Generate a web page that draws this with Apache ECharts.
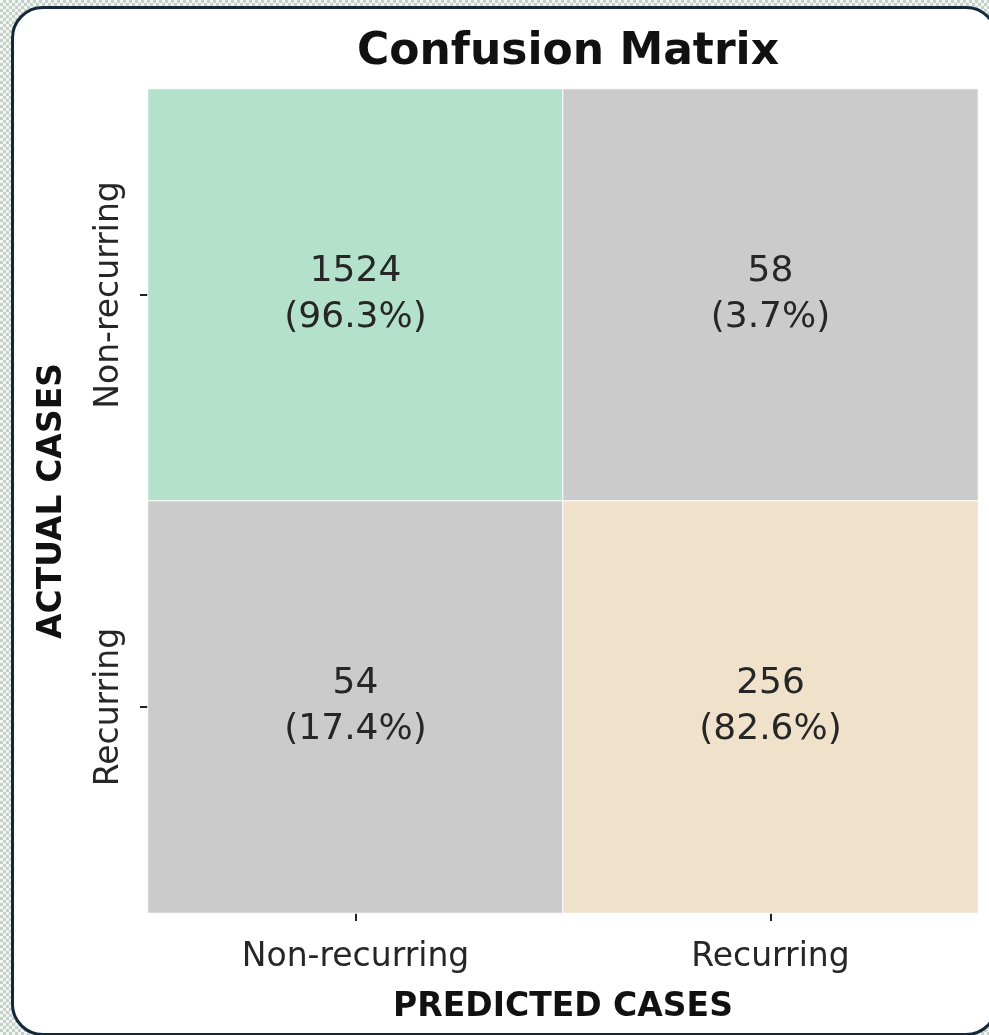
<!DOCTYPE html>
<html>
<head>
<meta charset="utf-8">
<script src="https://cdn.jsdelivr.net/npm/echarts@6/dist/echarts.min.js"></script>
<style>
  html, body { margin: 0; padding: 0; }
  body {
    width: 989px; height: 1035px; overflow: hidden; position: relative;
    background-color: #ffffff;
    background-image: conic-gradient(#c3d2c8 25%, #f3f5f3 0 50%, #c3d2c8 0 75%, #f3f5f3 0);
    background-size: 6px 6px;
  }
  #card {
    position: absolute; left: 11px; top: 6px; width: 987px; height: 1030px;
    box-sizing: border-box; background: #ffffff;
    border: 3.5px solid #13283a; border-radius: 32px;
  }
  #chart { position: absolute; left: 0; top: 0; width: 989px; height: 1035px; }
</style>
</head>
<body>
<div id="card"></div>
<div id="chart"></div>
<script>
// Class labels (predicted on x, actual on y)
const predictedLabels = ['Non-recurring', 'Recurring'];
const actualLabels = ['Non-recurring', 'Recurring'];
// Counts per actual row: [predicted Non-recurring, predicted Recurring]
const countsNonRecurring = [1524, 58];
const countsRecurring = [54, 256];
// Row-normalised percentages shown under each count
const pctNonRecurring = [96.3, 3.7];
const pctRecurring = [17.4, 82.6];
// Cell fills: correct non-recurring, correct recurring, misclassified
const colorTN = '#b3e1cb';
const colorTP = '#f0e1ca';
const colorWrong = '#cbcbcb';

const rows = [countsNonRecurring, countsRecurring];
const pcts = [pctNonRecurring, pctRecurring];
const fills = [[colorTN, colorWrong], [colorWrong, colorTP]];

const data = [];
for (let r = 0; r < actualLabels.length; r++) {
  for (let c = 0; c < predictedLabels.length; c++) {
    data.push({
      value: [c, r, rows[r][c]],
      pct: pcts[r][c],
      itemStyle: { color: fills[r][c] }
    });
  }
}

const font = 'DejaVu Sans';
const chart = echarts.init(document.getElementById('chart'), null, { renderer: 'canvas' });
chart.setOption({
  backgroundColor: 'transparent',
  animation: false,
  title: {
    text: 'Confusion Matrix',
    left: 563, top: 26, textAlign: 'center',
    textStyle: { fontFamily: font, fontWeight: 'bold', fontSize: 44, color: '#111111' }
  },
  grid: { left: 148, right: 11, top: 89, bottom: 122 },
  xAxis: {
    type: 'category',
    data: predictedLabels,
    name: 'PREDICTED CASES',
    nameLocation: 'middle',
    nameGap: 78,
    nameTextStyle: { fontFamily: font, fontWeight: 'bold', fontSize: 33, color: '#111111' },
    axisLine: { show: false },
    axisTick: { show: true, alignWithLabel: true, length: 8, lineStyle: { color: '#222222', width: 2 } },
    axisLabel: { fontFamily: font, fontSize: 33, color: '#262626', margin: 28 },
    splitLine: { show: false }
  },
  yAxis: {
    type: 'category',
    data: actualLabels,
    inverse: true,
    name: 'ACTUAL CASES',
    nameLocation: 'middle',
    nameGap: 79,
    nameRotate: 90,
    nameTextStyle: { fontFamily: font, fontWeight: 'bold', fontSize: 33, color: '#111111' },
    axisLine: { show: false },
    axisTick: { show: true, alignWithLabel: true, length: 8, lineStyle: { color: '#222222', width: 2 } },
    axisLabel: { fontFamily: font, fontSize: 33, color: '#262626', rotate: 90, margin: 22 },
    splitLine: { show: false }
  },
  series: [{
    type: 'heatmap',
    data: data,
    itemStyle: { borderColor: '#ffffff', borderWidth: 1 },
    label: {
      show: true,
      fontFamily: font,
      fontSize: 36,
      lineHeight: 46,
      color: '#262626',
      formatter: p => p.value[2] + '\n(' + p.data.pct.toFixed(1) + '%)'
    },
    emphasis: { disabled: true }
  }]
});
</script>
</body>
</html>
